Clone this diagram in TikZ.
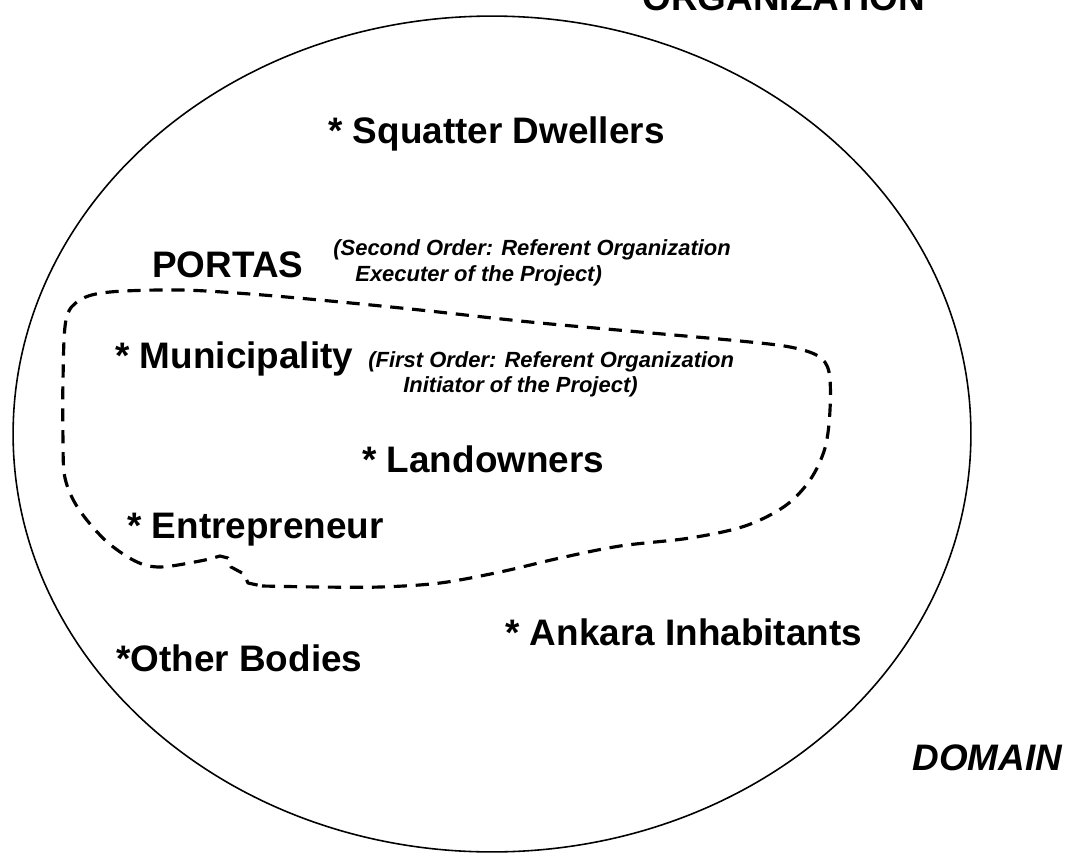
\documentclass[tikz,border=0pt]{standalone}
\usepackage{fontspec}
\setmainfont{Liberation Sans}
\usetikzlibrary{positioning}
\tikzset{
    actor/.style={
        inner sep=0pt, anchor=base west,
        font=\bfseries\fontsize{21}{25}\selectfont
    },
    heading/.style={
        inner sep=0pt,
        font=\bfseries\fontsize{21}{25}\selectfont
    },
    role/.style={
        inner sep=0pt, anchor=base west,
        font=\bfseries\itshape\fontsize{12.5}{15}\selectfont
    },
    domainline/.style={draw=black, line width=0.9pt},
    portasline/.style={draw=black, line width=1.8pt, dash pattern=on 7.5pt off 5pt, line join=round}
}

\begin{document}
\begin{tikzpicture}[x=0.02cm, y=-0.02cm]
\useasboundingbox[fill=white] (0,0) rectangle (1067,855);

% Domain boundary
\draw[domainline] (492,434) ellipse [x radius=9.58cm, y radius=8.36cm];

% Titles
\node[heading, anchor=base east] (org) at (925,11) {ORGANIZATION};
\node[heading, anchor=base west, font=\bfseries\itshape\fontsize{21}{25}\selectfont] (domain) at (912,770) {DOMAIN};

% PORTAS boundary (dashed)
\draw[portasline] plot[smooth, tension=0.55] coordinates {
    (262,586) (320,587) (380,587) (440,583) (500,572) (560,558) (620,546)
    (690,538) (745,526) (785,506) (810,480) (825,448) (830,410) (829,372)
    (818,356) (790,347) (740,341) (640,332) (530,322) (420,310) (330,301)
    (250,294) (180,290) (110,292) (80,300) (66,320) (63,380) (63,440)
    (65,478) (78,508) (105,540) (135,561) (160,567) (200,561) (220,556)}
    -- (228,558) -- (231,567) -- (244,574) -- (248,583) -- (262,586);

% Actors
\node[actor] (squatter) at (328,143) {* Squatter Dwellers};
\node[actor] (portas) at (152,277) {PORTAS};
\node[role] (second1) at (333,255) {(Second Order: Referent Organization};
\node[role] (second2) at (355,281) {Executer of the Project)};
\node[actor] (muni) at (115,368) {* Municipality};
\node[role] (first1) at (368,367) {(First Order: Referent Organization};
\node[role] (first2) at (403,392) {Initiator of the Project)};
\node[actor] (land) at (362,472) {* Landowners};
\node[actor] (entre) at (127,538) {* Entrepreneur};
\node[actor] (ankara) at (505,645) {* Ankara Inhabitants};
\node[actor] (other) at (116,671) {*Other Bodies};

\end{tikzpicture}
\end{document}
